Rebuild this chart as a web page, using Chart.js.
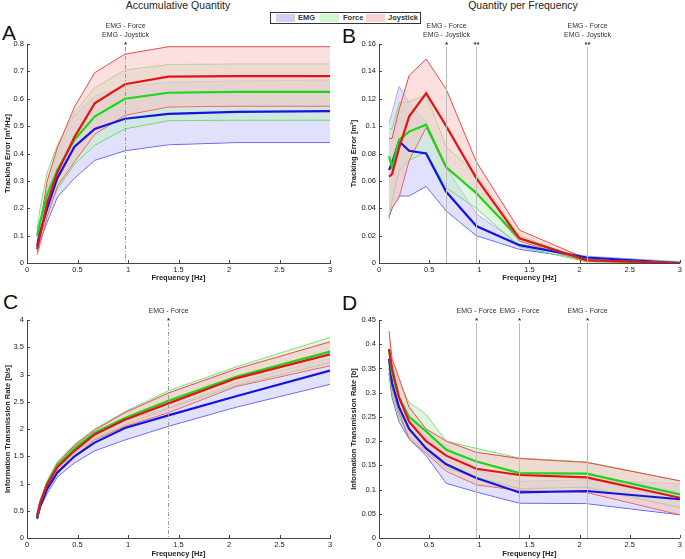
<!DOCTYPE html>
<html lang="en">
<head>
<meta charset="UTF-8">
<title>Tracking error / information transmission</title>
<script src="https://cdn.jsdelivr.net/npm/chart.js@4.4.0/dist/chart.umd.min.js"></script>
<style>
    body {
        margin: 0;
        width: 685px;
        height: 559px;
        position: relative;
        overflow: hidden;
        background: #fff;
        font-family: "Liberation Sans", Arial, sans-serif;
    }
    canvas { position: absolute; }
    .head {
        position: absolute;
        top: 0;
        font-size: 10.5px;
        line-height: 1;
        color: #222;
        white-space: nowrap;
        transform: translateX(-50%);
    }
    .letter {
        position: absolute;
        font-size: 21px;
        line-height: 1;
        color: #111;
    }
    #legend {
        position: absolute;
        left: 270px;
        top: 12px;
        width: 149px;
        height: 10px;
        border: 1px solid #333;
        font-size: 7.5px;
        font-weight: bold;
        color: #333;
    }
    #legend span { position: absolute; top: 0; line-height: 10px; }
    #legend i { position: absolute; top: 1px; width: 19px; height: 8px; }
</style>
</head>
<body>
    <div class="head" style="left:178px">Accumulative Quantity</div>
    <div class="head" style="left:523px">Quantity per Frequency</div>

    <div id="legend">
        <i style="left:5px;background:#cfcff8"></i><span style="left:27px">EMG</span>
        <i style="left:49px;background:#cff6cf"></i><span style="left:72px">Force</span>
        <i style="left:95px;background:#fbd0d0"></i><span style="left:117px">Joystick</span>
    </div>

    <div class="letter" style="left:2px;top:22px">A</div>
    <div class="letter" style="left:342px;top:25px">B</div>
    <div class="letter" style="left:3px;top:291px">C</div>
    <div class="letter" style="left:342px;top:292px">D</div>

    <canvas id="chartA" width="345" height="285" style="left:0;top:0"></canvas>
    <canvas id="chartB" width="340" height="285" style="left:345px;top:0"></canvas>
    <canvas id="chartC" width="345" height="279" style="left:0;top:280px"></canvas>
    <canvas id="chartD" width="340" height="279" style="left:345px;top:280px"></canvas>

<script>
    // frequencies [Hz]
    const freq = [0.1, 0.13, 0.2, 0.3, 0.47, 0.67, 0.97, 1.4, 2.07, 3.0]

    // A - accumulated tracking error
    const aEmgMean = [0.06, 0.11, 0.2, 0.31, 0.425, 0.49, 0.527, 0.545, 0.552, 0.555]
    const aEmgUp = [0.08, 0.15, 0.27, 0.4, 0.54, 0.61, 0.645, 0.66, 0.665, 0.668]
    const aEmgLo = [0.04, 0.08, 0.15, 0.24, 0.31, 0.375, 0.41, 0.432, 0.44, 0.44]
    const aForceMean = [0.1, 0.15, 0.25, 0.34, 0.45, 0.535, 0.6, 0.622, 0.625, 0.625]
    const aForceUp = [0.12, 0.2, 0.33, 0.43, 0.55, 0.64, 0.705, 0.725, 0.727, 0.727]
    const aForceLo = [0.07, 0.11, 0.19, 0.27, 0.36, 0.43, 0.49, 0.52, 0.522, 0.522]
    const aJoyMean = [0.05, 0.1, 0.22, 0.33, 0.46, 0.583, 0.653, 0.681, 0.683, 0.683]
    const aJoyUp = [0.07, 0.14, 0.3, 0.42, 0.57, 0.695, 0.763, 0.79, 0.79, 0.79]
    const aJoyLo = [0.03, 0.07, 0.17, 0.28, 0.37, 0.47, 0.54, 0.57, 0.573, 0.573]

    // B - tracking error per frequency
    const bEmgMean = [0.068, 0.073, 0.089, 0.082, 0.08, 0.052, 0.027, 0.013, 0.004, 0.0]
    const bEmgUp = [0.102, 0.11, 0.129, 0.117, 0.103, 0.07, 0.036, 0.014, 0.005, 0.001]
    const bEmgLo = [0.034, 0.04, 0.049, 0.049, 0.056, 0.038, 0.02, 0.01, 0.003, 0.0]
    const bForceMean = [0.078, 0.07, 0.09, 0.096, 0.101, 0.07, 0.051, 0.018, 0.002, 0.0]
    const bForceUp = [0.098, 0.098, 0.117, 0.118, 0.123, 0.085, 0.065, 0.02, 0.002, 0.0]
    const bForceLo = [0.032, 0.045, 0.068, 0.075, 0.081, 0.055, 0.04, 0.012, 0.001, 0.0]
    const bJoyMean = [0.063, 0.065, 0.084, 0.107, 0.124, 0.1, 0.062, 0.018, 0.002, 0.0]
    const bJoyUp = [0.091, 0.091, 0.112, 0.137, 0.149, 0.127, 0.074, 0.024, 0.003, 0.0]
    const bJoyLo = [0.034, 0.04, 0.048, 0.075, 0.099, 0.069, 0.052, 0.016, 0.001, 0.0]

    // C - accumulated information transmission rate
    const cEmgMean = [0.36, 0.58, 0.9, 1.2, 1.5, 1.75, 2.02, 2.25, 2.6, 3.07]
    const cEmgUp = [0.4, 0.65, 1.0, 1.3, 1.6, 1.87, 2.15, 2.4, 2.85, 3.3]
    const cEmgLo = [0.34, 0.55, 0.82, 1.12, 1.38, 1.6, 1.8, 2.05, 2.4, 2.82]
    const cForceMean = [0.4, 0.65, 1.0, 1.33, 1.65, 1.93, 2.2, 2.52, 2.96, 3.42]
    const cForceUp = [0.42, 0.68, 1.05, 1.4, 1.72, 2.0, 2.32, 2.7, 3.14, 3.68]
    const cForceLo = [0.38, 0.62, 0.95, 1.26, 1.56, 1.83, 2.08, 2.38, 2.8, 3.22]
    const cJoyMean = [0.4, 0.64, 0.98, 1.3, 1.6, 1.9, 2.17, 2.47, 2.93, 3.37]
    const cJoyUp = [0.43, 0.68, 1.03, 1.37, 1.7, 1.98, 2.3, 2.66, 3.1, 3.6]
    const cJoyLo = [0.37, 0.6, 0.93, 1.23, 1.5, 1.8, 2.05, 2.3, 2.78, 3.16]

    // D - information transmission per frequency
    const dEmgMean = [0.37, 0.32, 0.27, 0.225, 0.185, 0.152, 0.124, 0.094, 0.097, 0.08]
    const dEmgUp = [0.36, 0.33, 0.285, 0.25, 0.21, 0.19, 0.14, 0.117, 0.12, 0.112]
    const dEmgLo = [0.34, 0.29, 0.24, 0.205, 0.17, 0.113, 0.095, 0.072, 0.071, 0.048]
    const dForceMean = [0.39, 0.34, 0.29, 0.25, 0.22, 0.182, 0.158, 0.134, 0.133, 0.09]
    const dForceUp = [0.39, 0.36, 0.32, 0.28, 0.255, 0.2, 0.185, 0.165, 0.157, 0.118]
    const dForceLo = [0.34, 0.3, 0.25, 0.21, 0.18, 0.145, 0.125, 0.102, 0.105, 0.063]
    const dJoyMean = [0.39, 0.35, 0.29, 0.24, 0.2, 0.17, 0.143, 0.13, 0.125, 0.083]
    const dJoyUp = [0.427, 0.37, 0.33, 0.27, 0.225, 0.2, 0.177, 0.164, 0.156, 0.118]
    const dJoyLo = [0.35, 0.31, 0.26, 0.205, 0.175, 0.138, 0.11, 0.098, 0.094, 0.048]

    // significance markers
    const sigA = [0.97]
    const sigLabelsA = [["EMG - Force", "EMG - Joystick"]]
    const starsA = ["*"]
    const sigB = [0.67, 0.97, 2.07]
    const sigLabelsB = [["EMG - Force", "EMG - Joystick"], [], ["EMG - Force", "EMG - Joystick"]]
    const starsB = ["*", "**", "**"]
    const sigC = [1.4]
    const sigLabelsC = [["EMG - Force"]]
    const starsC = ["*"]
    const sigD = [0.97, 1.4, 2.07]
    const sigLabelsD = [["EMG - Force"], ["EMG - Force"], ["EMG - Force"]]
    const starsD = ["*", "*", "*"]
</script>
<script>
    const FONT = "'Liberation Sans', Arial, sans-serif"

    function pts(arr) {
        return freq.map((f, i) => ({x: f, y: arr[i]}))
    }

    // vertical lines, labels above the plot, inward ticks (matlab look)
    function makeSig(lines, labels, stars, dash, color) {
        return {
            id: 'sig',
            afterDatasetsDraw(chart) {
                const ctx = chart.ctx
                const area = chart.chartArea
                const xs = chart.scales.x
                const ys = chart.scales.y
                ctx.save()
                ctx.strokeStyle = '#444'
                ctx.lineWidth = 1
                xs.ticks.forEach(t => {
                    const px = Math.round(xs.getPixelForValue(t.value)) + 0.5
                    ctx.beginPath()
                    ctx.moveTo(px, area.bottom)
                    ctx.lineTo(px, area.bottom - 3)
                    ctx.stroke()
                })
                ys.ticks.forEach(t => {
                    const py = Math.round(ys.getPixelForValue(t.value)) + 0.5
                    ctx.beginPath()
                    ctx.moveTo(area.left, py)
                    ctx.lineTo(area.left + 3, py)
                    ctx.stroke()
                })

                lines.forEach((f, i) => {
                    const px = Math.round(xs.getPixelForValue(f)) + 0.5
                    ctx.strokeStyle = color
                    ctx.setLineDash(dash)
                    ctx.beginPath()
                    ctx.moveTo(px, area.top + 3)
                    ctx.lineTo(px, area.bottom)
                    ctx.stroke()
                    ctx.setLineDash([])

                    ctx.fillStyle = '#333'
                    ctx.textAlign = 'center'
                    ctx.textBaseline = 'middle'
                    ctx.font = '7px ' + FONT
                    const lab = labels[i]
                    lab.forEach((s, k) => {
                        ctx.fillText(s, px, area.top - 9 - (lab.length - 1 - k) * 9)
                    })
                    ctx.font = 'bold 8px ' + FONT
                    ctx.fillText(stars[i], px, area.top + 1)
                })
                ctx.restore()
            }
        }
    }

    function makeChart(id, s, yMax, yStep, yTitle, yWidth, padTop, padRight, xHeight, titlePadL, titlePadB, sig) {
        const band = (mean, up, lo, c, cUp, cLo, fill) => [
            {data: pts(mean), borderColor: c, borderWidth: 2.2},
            {data: pts(up), borderColor: cUp, borderWidth: 1, fill: '+1', backgroundColor: fill},
            {data: pts(lo), borderColor: cLo, borderWidth: 1}
        ]
        const emg = band(s.emg[0], s.emg[1], s.emg[2], 'rgb(20,20,225)', 'rgb(175,175,238)', 'rgb(80,80,240)', 'rgba(195,195,247,0.5)')
        const force = band(s.force[0], s.force[1], s.force[2], 'rgb(25,215,25)', 'rgb(130,222,130)', 'rgb(90,210,90)', 'rgba(195,237,195,0.5)')
        const joy = band(s.joy[0], s.joy[1], s.joy[2], 'rgb(228,20,20)', 'rgb(232,75,75)', 'rgb(232,75,75)', 'rgba(250,192,192,0.5)')

        // datasets draw from last to first: emg band at the bottom, means on top
        const datasets = [joy[0], force[0], emg[0], joy[1], joy[2], force[1], force[2], emg[1], emg[2]]
        datasets.forEach(d => {
            d.pointRadius = 0
            d.tension = 0
            if (d.fill === undefined) d.fill = false
        })

        return new Chart(document.getElementById(id), {
            type: 'line',
            data: {datasets: datasets},
            options: {
                responsive: false,
                animation: false,
                layout: {padding: {top: padTop, right: padRight, left: 0, bottom: 0}},
                plugins: {
                    legend: {display: false},
                    tooltip: {enabled: false}
                },
                scales: {
                    x: {
                        type: 'linear',
                        min: 0,
                        max: 3,
                        grid: {display: false, drawTicks: false},
                        border: {display: true, color: '#444', width: 1},
                        ticks: {
                            stepSize: 0.5,
                            padding: 3,
                            color: '#222',
                            maxRotation: 0,
                            font: {family: FONT, size: 7.5, lineHeight: 1},
                            callback: v => String(+v.toFixed(2))
                        },
                        title: {
                            display: true,
                            text: 'Frequency [Hz]',
                            color: '#222',
                            padding: {top: 0, bottom: titlePadB},
                            font: {family: FONT, size: 7.5, weight: 'bold'}
                        },
                        afterFit: sc => { sc.height = xHeight }
                    },
                    y: {
                        min: 0,
                        max: yMax,
                        grid: {display: false, drawTicks: false},
                        border: {display: true, color: '#444', width: 1},
                        ticks: {
                            stepSize: yStep,
                            padding: 3,
                            color: '#222',
                            font: {family: FONT, size: 7.5},
                            callback: v => String(+v.toFixed(3))
                        },
                        title: {
                            display: true,
                            text: yTitle,
                            color: '#222',
                            padding: {top: titlePadL, bottom: 0},
                            font: {family: FONT, size: 7.5, weight: 'bold'}
                        },
                        afterFit: sc => { sc.width = yWidth }
                    }
                }
            },
            plugins: [sig]
        })
    }

    makeChart('chartA', {emg: [aEmgMean, aEmgUp, aEmgLo], force: [aForceMean, aForceUp, aForceLo], joy: [aJoyMean, aJoyUp, aJoyLo]},
        0.8, 0.1, 'Tracking Error [m²/Hz]', 27, 44, 15, 22, 3, 3,
        makeSig(sigA, sigLabelsA, starsA, [4, 2, 1, 2], '#999'))

    makeChart('chartB', {emg: [bEmgMean, bEmgUp, bEmgLo], force: [bForceMean, bForceUp, bForceLo], joy: [bJoyMean, bJoyUp, bJoyLo]},
        0.16, 0.02, 'Tracking Error [m²]', 34, 44, 3, 22, 4, 3,
        makeSig(sigB, sigLabelsB, starsB, [], '#bbb'))

    makeChart('chartC', {emg: [cEmgMean, cEmgUp, cEmgLo], force: [cForceMean, cForceUp, cForceLo], joy: [cJoyMean, cJoyUp, cJoyLo]},
        4, 0.5, 'Information Transmission Rate [b/s]', 27, 40, 15, 21, 3, 1,
        makeSig(sigC, sigLabelsC, starsC, [4, 2, 1, 2], '#999'))

    makeChart('chartD', {emg: [dEmgMean, dEmgUp, dEmgLo], force: [dForceMean, dForceUp, dForceLo], joy: [dJoyMean, dJoyUp, dJoyLo]},
        0.45, 0.05, 'Information Transmission Rate [b]', 34, 40, 3, 21, 4, 1,
        makeSig(sigD, sigLabelsD, starsD, [], '#bbb'))
</script>
</body>
</html>
